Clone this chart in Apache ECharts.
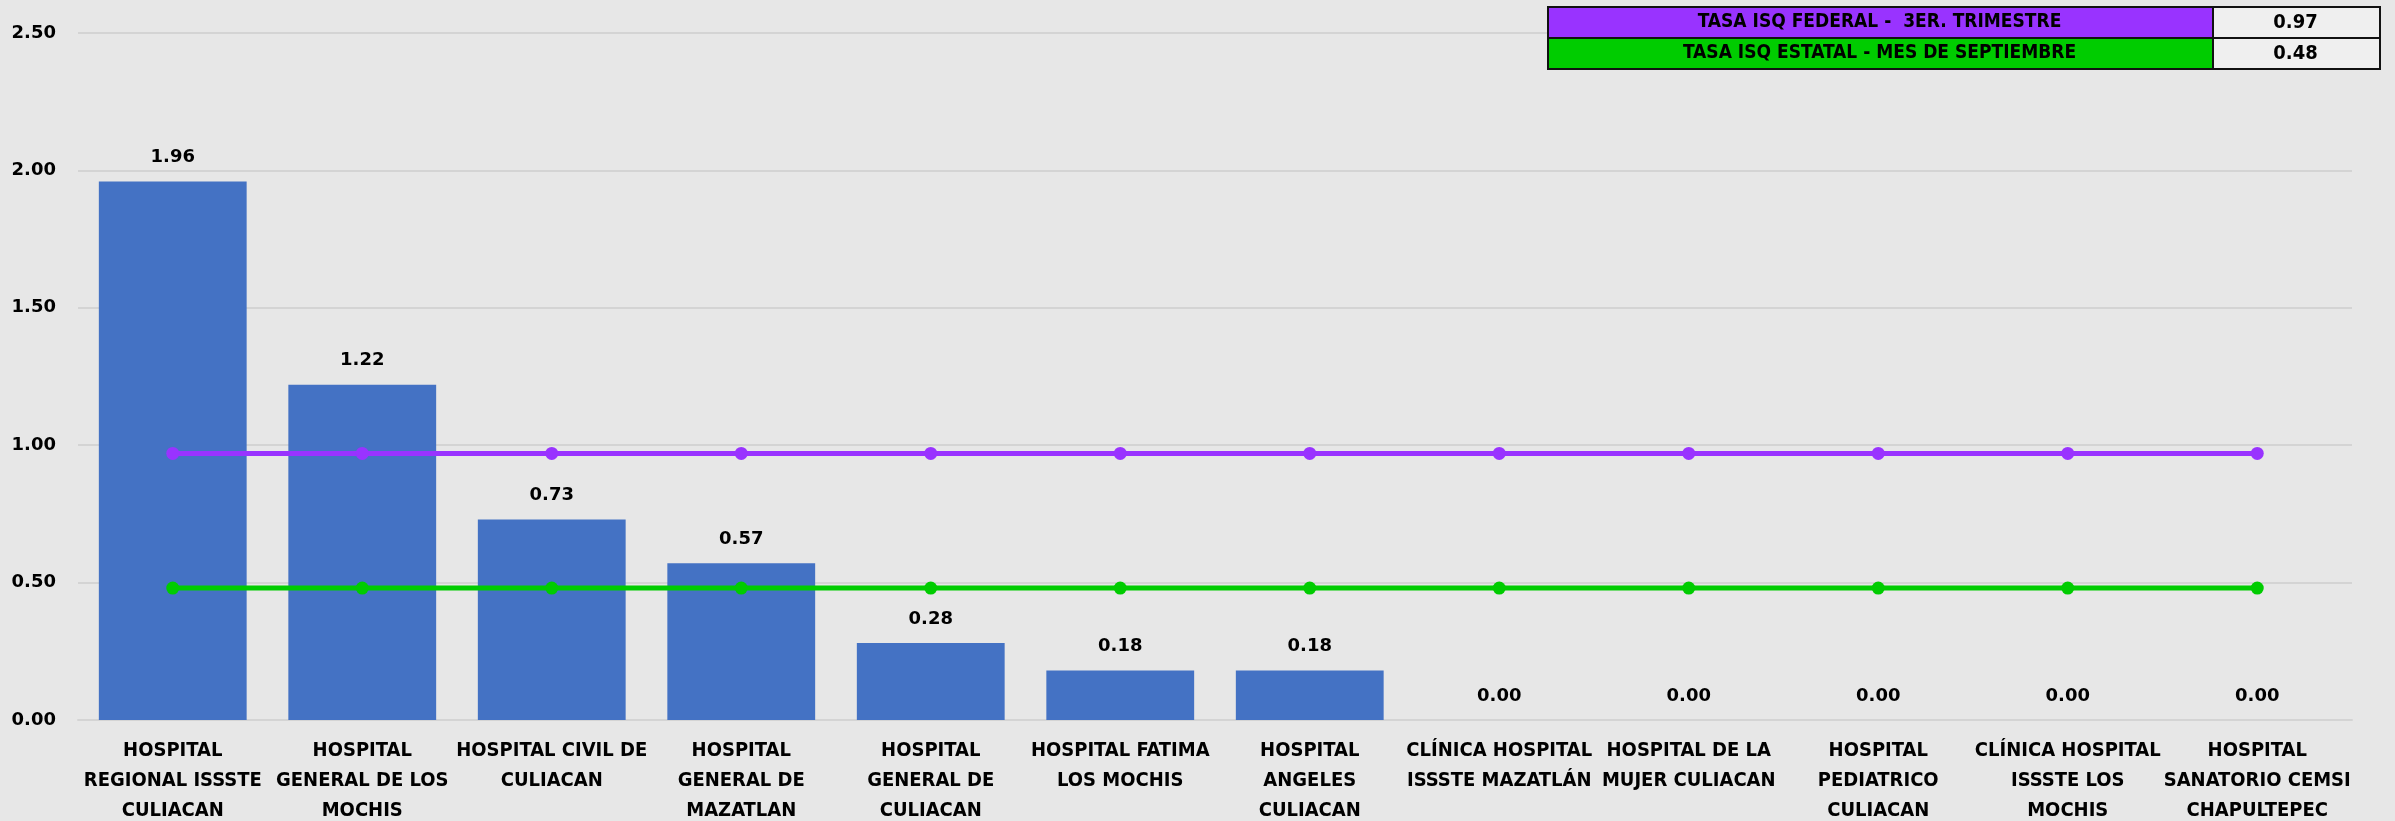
<!DOCTYPE html>
<html>
<head>
<meta charset="utf-8">
<script src="https://cdn.jsdelivr.net/npm/echarts@6/dist/echarts.min.js"></script>
<style>
html,body{margin:0;padding:0;background:#E7E7E7;overflow:hidden;}
#c{width:2395px;height:821px;}
</style>
</head>
<body>
<div id="c"></div>
<script>
const categories = [
  'HOSPITAL\nREGIONAL ISSSTE\nCULIACAN',
  'HOSPITAL\nGENERAL DE LOS\nMOCHIS',
  'HOSPITAL CIVIL DE\nCULIACAN',
  'HOSPITAL\nGENERAL DE\nMAZATLAN',
  'HOSPITAL\nGENERAL DE\nCULIACAN',
  'HOSPITAL FATIMA\nLOS MOCHIS',
  'HOSPITAL\nANGELES\nCULIACAN',
  'CLÍNICA HOSPITAL\nISSSTE MAZATLÁN',
  'HOSPITAL DE LA\nMUJER CULIACAN',
  'HOSPITAL\nPEDIATRICO\nCULIACAN',
  'CLÍNICA HOSPITAL\nISSSTE LOS\nMOCHIS',
  'HOSPITAL\nSANATORIO CEMSI\nCHAPULTEPEC'
];
const tasaHospital = [1.96, 1.22, 0.73, 0.57, 0.28, 0.18, 0.18, 0, 0, 0, 0, 0];
const tasaFederal = [0.97, 0.97, 0.97, 0.97, 0.97, 0.97, 0.97, 0.97, 0.97, 0.97, 0.97, 0.97];
const tasaEstatal = [0.48, 0.48, 0.48, 0.48, 0.48, 0.48, 0.48, 0.48, 0.48, 0.48, 0.48, 0.48];
const tableLabels = ['TASA ISQ FEDERAL -  3ER. TRIMESTRE', 'TASA ISQ ESTATAL - MES DE SEPTIEMBRE'];
const tableValues = [tasaFederal[0], tasaEstatal[0]];
const yTicks = [0, 0.5, 1.0, 1.5, 2.0, 2.5];

const chart = echarts.init(document.getElementById('c'));

const tblX = 1547, tblY = 6, tblW1 = 665, tblW2 = 167, rowH = 31;
const rowColors = ['#9933FF', '#00CC00'];
const narrowFont = '"Liberation Sans Narrow", "DejaVu Sans Condensed", sans-serif';
const graphics = [];
tableLabels.forEach((lab, i) => {
  const y = tblY + i * rowH;
  graphics.push({
    type: 'rect', left: tblX, top: y, z: 10,
    shape: { width: tblW1, height: rowH },
    style: { fill: rowColors[i], stroke: '#111', lineWidth: 2 }
  });
  graphics.push({
    type: 'rect', left: tblX + tblW1, top: y, z: 10,
    shape: { width: tblW2, height: rowH },
    style: { fill: '#EFEFEF', stroke: '#111', lineWidth: 2 }
  });
  graphics.push({
    type: 'text', z: 11,
    x: tblX + tblW1 / 2, y: y + rowH / 2 + 1,
    style: { text: lab, fill: '#000', font: 'bold 19px ' + narrowFont, align: 'center', verticalAlign: 'middle' }
  });
  graphics.push({
    type: 'text', z: 11,
    x: tblX + tblW1 + tblW2 / 2, y: y + rowH / 2 + 1,
    style: { text: tableValues[i].toFixed(2), fill: '#000', font: 'bold 20px ' + narrowFont, align: 'center', verticalAlign: 'middle' }
  });
});

chart.setOption({
  backgroundColor: '#E7E7E7',
  animation: false,
  grid: { left: 78, right: 43, top: 33, bottom: 101, containLabel: false, outerBoundsMode: 'none' },
  xAxis: {
    type: 'category',
    data: categories,
    boundaryGap: true,
    axisLine: { show: true, lineStyle: { color: '#D4D4D4', width: 2 } },
    axisTick: { show: false },
    axisLabel: {
      interval: 0,
      color: '#000',
      fontFamily: narrowFont,
      fontWeight: 'bold',
      fontSize: 20,
      lineHeight: 30,
      margin: 16
    }
  },
  yAxis: {
    type: 'value',
    min: 0, max: 2.5, interval: 0.5,
    axisLine: { show: false },
    axisTick: { show: false },
    splitLine: { lineStyle: { color: '#D4D4D4', width: 2 } },
    axisLabel: {
      color: '#000',
      fontFamily: '"DejaVu Sans", sans-serif',
      fontWeight: 'bold',
      fontSize: 18,
      margin: 22,
      formatter: v => yTicks.includes(v) ? v.toFixed(2) : ''
    }
  },
  series: [
    {
      type: 'bar',
      data: tasaHospital,
      barCategoryGap: '22%',
      itemStyle: { color: '#4472C4' },
      label: {
        show: true, position: 'top', distance: 15,
        color: '#000',
        fontFamily: '"DejaVu Sans", sans-serif',
        fontWeight: 'bold', fontSize: 18,
        formatter: p => p.value.toFixed(2)
      },
      z: 2
    },
    {
      type: 'line',
      data: tasaFederal,
      symbol: 'circle', symbolSize: 13,
      lineStyle: { color: '#9933FF', width: 5 },
      itemStyle: { color: '#9933FF' },
      z: 3
    },
    {
      type: 'line',
      data: tasaEstatal,
      symbol: 'circle', symbolSize: 13,
      lineStyle: { color: '#00CC00', width: 5 },
      itemStyle: { color: '#00CC00' },
      z: 3
    }
  ],
  graphic: graphics
});
</script>
</body>
</html>
